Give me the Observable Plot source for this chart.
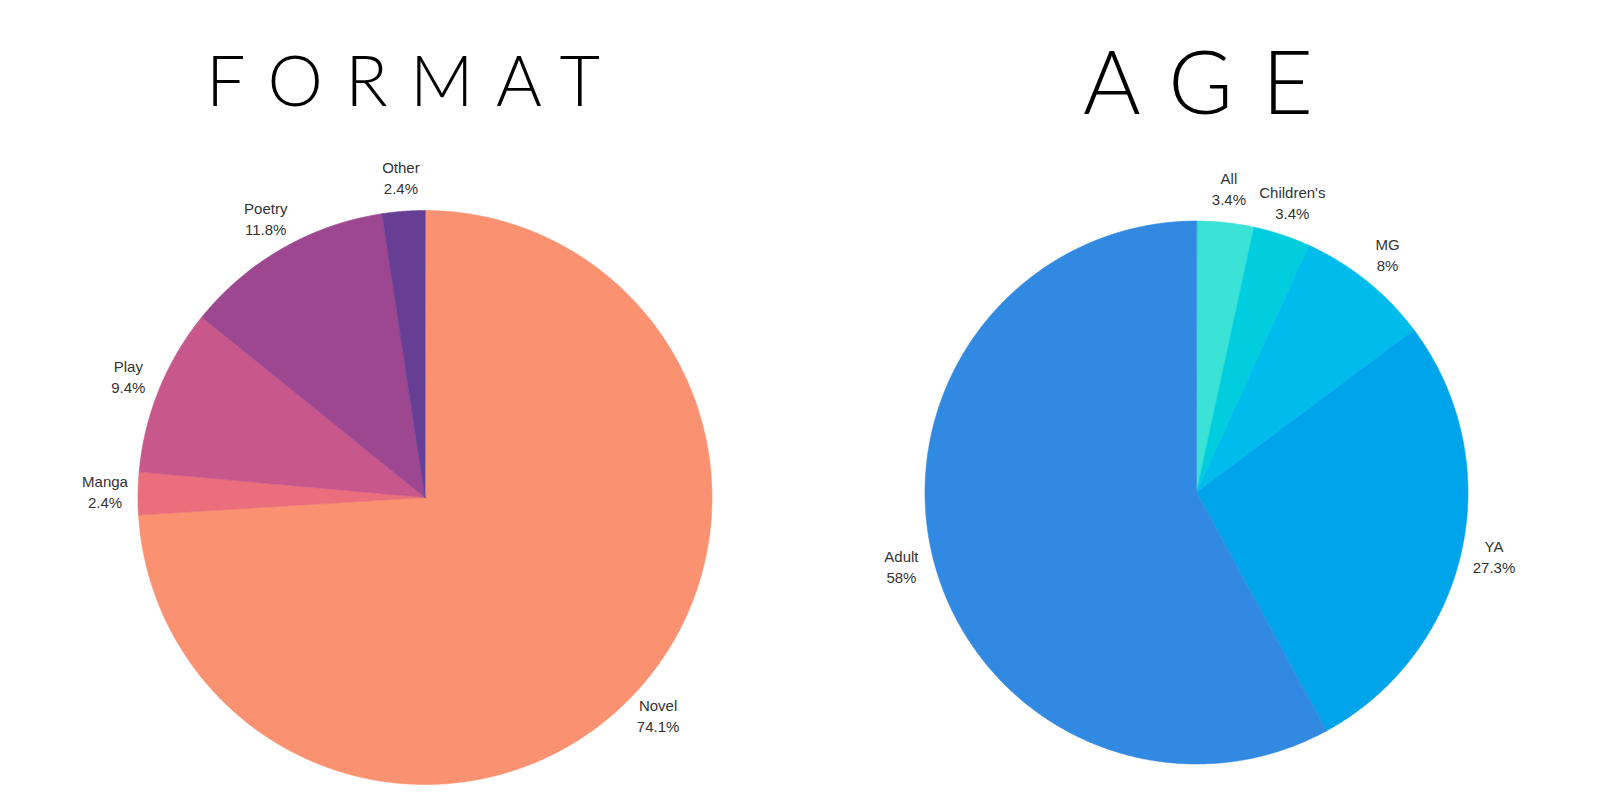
<!DOCTYPE html>
<html>
<head>
<meta charset="utf-8">
<script src="https://cdn.jsdelivr.net/npm/d3@7"></script>
<script src="https://cdn.jsdelivr.net/npm/@observablehq/plot@0.6"></script>
<style>
  html, body { margin: 0; padding: 0; background: #ffffff; }
  #wrap { position: relative; width: 1600px; height: 799px; overflow: hidden; background: #fff; }
  #head { position: relative; width: 1600px; height: 130px; }
  .title {
    position: absolute; transform: translateX(-50%); white-space: nowrap;
    font-family: Lato, "Open Sans", sans-serif; font-weight: 300; color: #000;
    line-height: 1; margin: 0;
  }
  #chart svg { display: block; }
</style>
</head>
<body>
<div id="wrap">
  <div id="head">
    <div class="title" id="t1" style="left:403px; top:44px; font-size:70px; letter-spacing:0.32em; padding-left:0.32em;">FORMAT</div>
    <div class="title" id="t2" style="left:1198px; top:36px; font-size:88px; letter-spacing:0.33em; padding-left:0.33em;">AGE</div>
  </div>
  <div id="chart"></div>
</div>
<script>
// ---- data ----
const formatCategories = ["Novel", "Manga", "Play", "Poetry", "Other"];
const formatValues = [74.1, 2.4, 9.4, 11.8, 2.4];
const formatColors = ["#fa9272", "#ea6e7b", "#c8578b", "#9d4790", "#663f95"];

const ageCategories = ["All", "Children's", "MG", "YA", "Adult"];
const ageValues = [3.4, 3.4, 8, 27.3, 58];
const ageColors = ["#3be2d6", "#00cedf", "#00bcec", "#00a4ea", "#3289e1"];

// ---- layout ----
const W = 1600, H = 669;
const pies = [
  {cats: formatCategories, vals: formatValues, colors: formatColors, cx: 424.5, cy: 367, r: 287},
  {cats: ageCategories, vals: ageValues, colors: ageColors, cx: 1196, cy: 362, r: 271.5}
];
const labelGap = 33;

const slicePts = [];
const labels = [];
pies.forEach((p, pi) => {
  const rows = p.cats.map((c, i) => ({name: c, value: p.vals[i], color: p.colors[i]}));
  const arcs = d3.pie().sort(null).value(d => d.value)(rows);
  arcs.forEach((a, i) => {
    const key = pi + "-" + i;
    slicePts.push({key, color: a.data.color, x: p.cx, y: p.cy});
    const n = Math.max(2, Math.ceil((a.endAngle - a.startAngle) / (Math.PI / 720)));
    for (let k = 0; k <= n; k++) {
      const t = a.startAngle + (a.endAngle - a.startAngle) * k / n;
      slicePts.push({key, color: a.data.color, x: p.cx + p.r * Math.sin(t), y: p.cy - p.r * Math.cos(t)});
    }
    const m = (a.startAngle + a.endAngle) / 2;
    const lr = p.r + labelGap;
    labels.push({x: p.cx + lr * Math.sin(m), y: p.cy - lr * Math.cos(m), text: a.data.name + "\n" + a.data.value + "%"});
  });
});

const chart = Plot.plot({
  width: W, height: H,
  margin: 0,
  x: {domain: [0, W], range: [0, W], axis: null},
  y: {domain: [0, H], range: [0, H], axis: null},
  style: {background: "#fff"},
  marks: [
    Plot.line(slicePts, {x: "x", y: "y", z: "key", fill: "color", stroke: "color", strokeWidth: 0.6, curve: "linear-closed"}),
    Plot.text(labels, {x: "x", y: "y", dy: -2, text: "text", fill: "#333", fontSize: 15, lineHeight: 1.4,
      fontFamily: "'Liberation Sans', Arial, sans-serif", textAnchor: "middle", lineAnchor: "middle"})
  ]
});
document.getElementById("chart").appendChild(chart);
</script>
</body>
</html>
